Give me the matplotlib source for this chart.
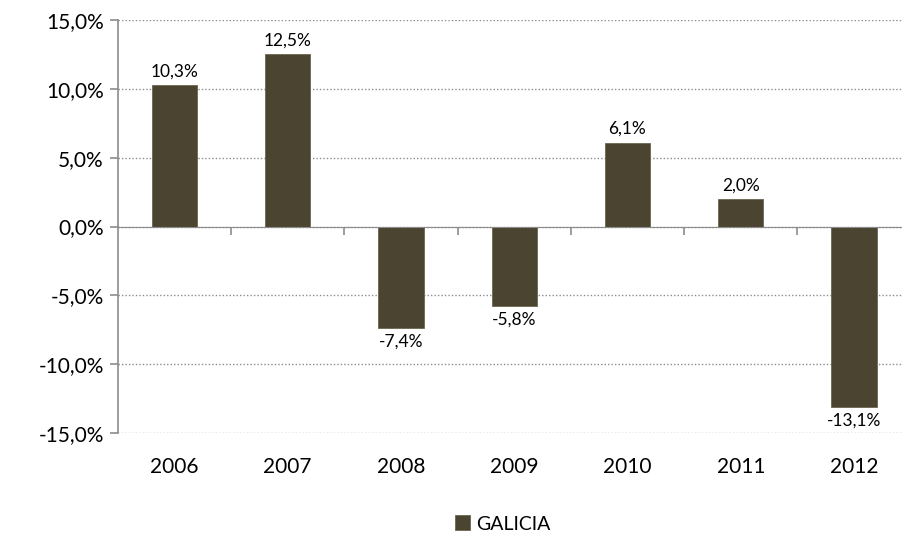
import matplotlib.pyplot as plt
from matplotlib.ticker import FuncFormatter

plt.rcParams['font.family'] = ['Lato', 'DejaVu Sans']

# Datos
anios = ['2006', '2007', '2008', '2009', '2010', '2011', '2012']
galicia = [10.3, 12.5, -7.4, -5.8, 6.1, 2.0, -13.1]
serie = 'GALICIA'

color_barra = '#4A4430'
gris = '#8C8C8C'


def fmt_pct(v, pos=None):
    return f'{v:.1f}%'.replace('.', ',')


def main():
    fig = plt.figure(figsize=(9.02, 5.34), dpi=100)
    ax = fig.add_axes([0.1306, 0.1891, 0.879, 0.7734])

    x = list(range(len(anios)))
    barras = ax.bar(x, galicia, width=0.4, color=color_barra,
                    edgecolor='#6B6650', linewidth=0.6, label=serie, zorder=3)

    # etiquetas de datos
    for b, v in zip(barras, galicia):
        cx = b.get_x() + b.get_width() / 2
        if v >= 0:
            ax.annotate(fmt_pct(v), (cx, v), xytext=(0, 4), textcoords='offset points',
                        ha='center', va='bottom', fontsize=12.5)
        else:
            ax.annotate(fmt_pct(v), (cx, v), xytext=(0, -4), textcoords='offset points',
                        ha='center', va='top', fontsize=12.5)

    ax.set_xlim(-0.5, len(anios) - 0.5)
    ax.set_ylim(-15, 15)
    ax.set_yticks([-15, -10, -5, 0, 5, 10, 15])
    ax.yaxis.set_major_formatter(FuncFormatter(fmt_pct))
    ax.grid(axis='y', linestyle=(0, (1, 1.5)), color=gris, linewidth=1, zorder=0)

    # eje horizontal en el cero con marcas entre categorias
    for s in ['top', 'right']:
        ax.spines[s].set_visible(False)
    ax.spines['bottom'].set_position(('data', 0))
    ax.spines['bottom'].set_color(gris)
    ax.spines['bottom'].set_zorder(4)
    ax.spines['left'].set_color(gris)
    ax.spines['left'].set_linewidth(1.2)
    ax.set_xticks([i + 0.5 for i in x[:-1]])
    ax.set_xticklabels([])
    ax.tick_params(axis='x', direction='out', length=6, color=gris, width=1.2)
    ax.tick_params(axis='y', direction='out', length=6, color=gris, width=1.2,
                   labelsize=15, pad=4)

    # nombres de los anios abajo
    sec = ax.secondary_xaxis(0.0)
    sec.set_xticks(x, anios)
    sec.tick_params(length=0, labelsize=15, pad=17)
    sec.spines['bottom'].set_visible(False)

    fig.legend(handles=[barras], labels=[serie], loc='lower center',
               bbox_to_anchor=(0.557, -0.03), frameon=False, fontsize=14,
               handlelength=0.8, handleheight=0.8, handletextpad=0.3)

    fig.savefig('out.png', dpi=100)


if __name__ == '__main__':
    main()
